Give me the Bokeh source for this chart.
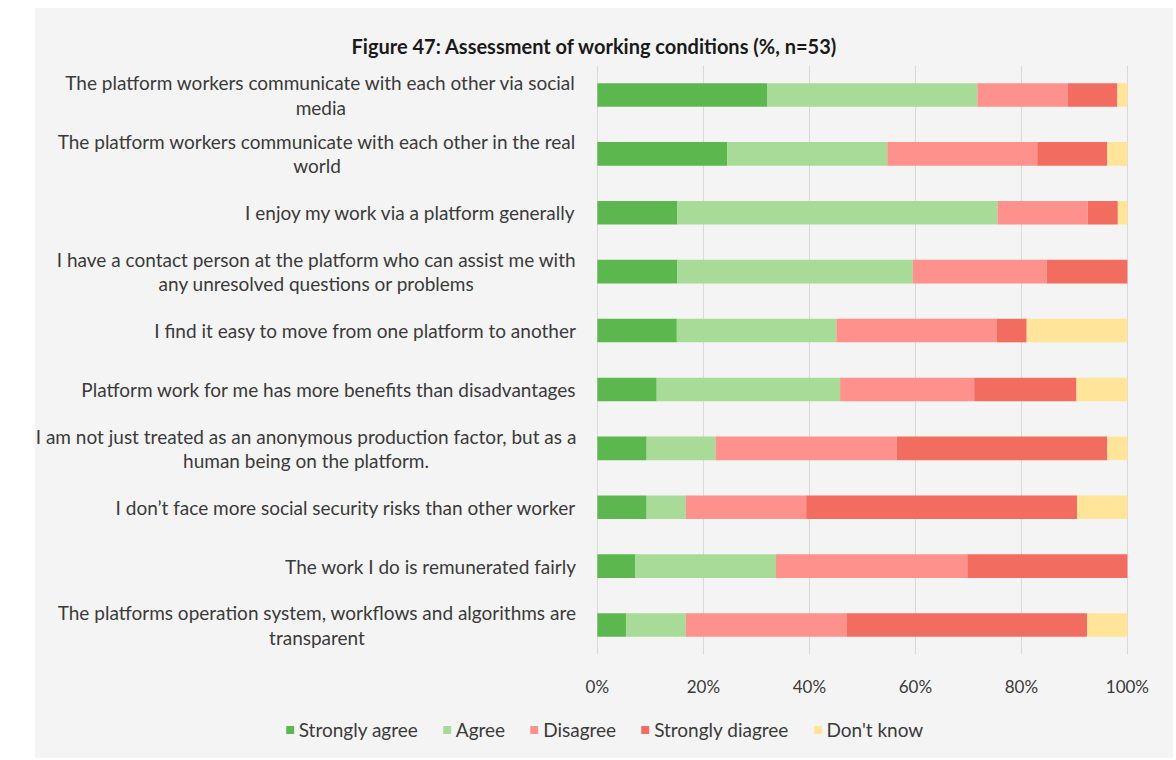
from bokeh.plotting import figure
from bokeh.models import (Range1d, FixedTicker, Legend, LegendItem, Spacer, Label,
                          ColumnDataSource)
from bokeh.layouts import row, column
from bokeh.embed import file_html
from bokeh.resources import INLINE

categories = [
    "The platform workers communicate with each other via social\nmedia",
    "The platform workers communicate with each other in the real\nworld",
    "I enjoy my work via a platform generally",
    "I have a contact person at the platform who can assist me with\nany unresolved questions or problems",
    "I find it easy to move from one platform to another",
    "Platform work for me has more benefits than disadvantages",
    "I am not just treated as an anonymous production factor, but as a\nhuman being on the platform.",
    "I don\u2019t face more social security risks than other worker",
    "The work I do is remunerated fairly",
    "The platforms operation system, workflows and algorithms are\ntransparent",
]
series_names = ["Strongly agree", "Agree", "Disagree", "Strongly diagree", "Don't know"]
strongly_agree = [32.1, 24.5, 15.1, 15.1, 15.0, 11.2, 9.3, 9.3, 7.2, 5.4]
agree = [39.6, 30.2, 60.4, 44.4, 30.1, 34.6, 13.0, 7.4, 26.5, 11.3]
disagree = [17.0, 28.3, 17.0, 25.3, 30.3, 25.3, 34.2, 22.7, 36.1, 30.4]
strongly_disagree = [9.4, 13.2, 5.7, 15.2, 5.6, 19.3, 39.7, 51.1, 30.2, 45.3]
dont_know = [1.9, 3.8, 1.8, 0.0, 19.0, 9.6, 3.8, 9.5, 0.0, 7.6]
x_ticks = [0, 20, 40, 60, 80, 100]
x_tick_labels = ["0%", "20%", "40%", "60%", "80%", "100%"]

colors = ["#5cb84e", "#a8da98", "#ff918c", "#f26c5f", "#ffe499"]
keys = ["sa", "a", "d", "sd", "dk"]
BG = "#f5f4f4"
FONT = "Lato"
TEXT = "#3a3a3a"

ypos = list(range(len(categories)))
source = ColumnDataSource(dict(y=ypos, sa=strongly_agree, a=agree, d=disagree,
                               sd=strongly_disagree, dk=dont_know))

p = figure(width=1138, height=692, output_backend="svg", toolbar_location=None,
           x_range=Range1d(-106.0, 108.7), y_range=Range1d(len(categories) - 0.5, -0.5),
           y_axis_location=None,
           min_border_left=0, min_border_right=0, min_border_top=57,
           min_border_bottom=46, background_fill_color=BG, border_fill_color=BG,
           outline_line_color=None)

renderers = p.hbar_stack(keys, y="y", height=0.4, color=colors, source=source,
                         line_color=None)

p.title.text = "Figure 47: Assessment of working conditions (%, n=53)"
p.title.text_font = FONT
p.title.text_font_size = "20px"
p.title.text_font_style = "bold"
p.title.text_color = "#1a1a1a"
p.title.align = "left"
p.title.offset = 316
p.title.standoff = 15

p.xaxis.ticker = FixedTicker(ticks=x_ticks)
p.xaxis.major_label_overrides = {t: l for t, l in zip(x_ticks, x_tick_labels)}
p.xaxis.axis_line_color = None
p.xaxis.major_tick_line_color = None
p.xaxis.minor_tick_line_color = None
p.xaxis.major_label_standoff = 15
p.xaxis.major_label_text_font = FONT
p.xaxis.major_label_text_font_size = "17px"
p.xaxis.major_label_text_color = TEXT

p.xgrid.ticker = FixedTicker(ticks=x_ticks)
p.xgrid.grid_line_color = "#d9d9d9"
p.ygrid.grid_line_color = None

for i, cat in enumerate(categories):
    p.add_layout(Label(x=0, y=i, x_offset=-21, text=cat, anchor="center_right",
                       text_align="center", text_font=FONT, text_font_size="19px",
                       text_color=TEXT, text_line_height=1.05))

# legend strip below the chart (its bars lie outside its visible y range)
lf = figure(width=1138, height=58, output_backend="svg", toolbar_location=None,
            x_range=Range1d(0, 100), y_range=Range1d(50, 51),
            x_axis_location=None, y_axis_location=None,
            min_border_left=0, min_border_right=0, min_border_top=0, min_border_bottom=0,
            background_fill_color=BG, border_fill_color=BG, outline_line_color=None)
lf.xgrid.visible = False
lf.ygrid.visible = False
legend_renderers = lf.hbar_stack(keys, y="y", height=0.4, color=colors, source=source,
                                 line_color=None)
legend = Legend(items=[LegendItem(label=n, renderers=[r]) for n, r in zip(series_names, legend_renderers)],
                orientation="horizontal", location="center",
                background_fill_alpha=0, border_line_color=None,
                glyph_width=10, glyph_height=10, label_standoff=4, spacing=24,
                label_text_font=FONT, label_text_font_size="19px",
                label_text_color=TEXT, margin=0, padding=6)
lf.add_layout(legend, "center")

layout = column(Spacer(width=1173, height=8),
                row(Spacer(width=35, height=750),
                    column(p, lf, spacing=0, styles={"background-color": BG})),
                spacing=0)
open("out.html", "w").write(file_html(layout, INLINE))
